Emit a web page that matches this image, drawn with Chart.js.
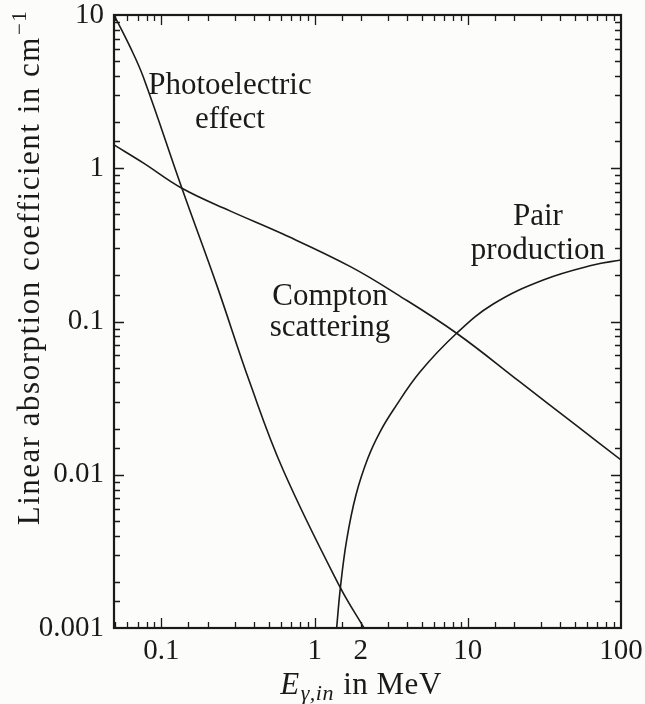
<!DOCTYPE html>
<html>
<head>
<meta charset="utf-8">
<script src="https://cdn.jsdelivr.net/npm/chart.js@4"></script>
<style>
  html, body { margin: 0; padding: 0; background: #fcfcfa; }
  #wrap { width: 645px; height: 704px; }
</style>
</head>
<body>
<div id="wrap"><canvas id="myChart" width="645" height="704"></canvas></div>
<script>
// energies in MeV, linear absorption coefficients in 1/cm
var photoE  = [0.049, 0.0623, 0.076, 0.136, 0.229, 0.378, 0.624, 1.46, 2.1];
var photoMu = [10, 6.21, 3.95, 0.74, 0.174, 0.0398, 0.0107, 0.00186, 0.001];

var comptonE  = [0.049, 0.076, 0.136, 0.28, 0.621, 1.7, 3.43, 8.45, 21.9, 51.3, 100];
var comptonMu = [1.42, 1.084, 0.74, 0.527, 0.372, 0.229, 0.151, 0.0838, 0.0403, 0.0209, 0.0125];

var pairE  = [1.392, 1.474, 1.618, 1.861, 2.228, 2.669, 3.26, 4.869, 8.453, 14.65, 31.06, 65.86, 100];
var pairMu = [0.001, 0.00185, 0.00375, 0.00738, 0.01286, 0.019, 0.02645, 0.0468, 0.0838, 0.1301, 0.1866, 0.2337, 0.252];

var xLabels = [0.1, 1, 2, 10, 100];
var yLabels = [0.001, 0.01, 0.1, 1, 10];
var mantissas = [1, 1.5, 2, 3, 4, 5, 6, 7, 8, 9];

var annotations = [
  { text: "Photoelectric", x: 0.28,  y: 3.05 },
  { text: "effect",        x: 0.28,  y: 1.83 },
  { text: "Compton",       x: 1.26,  y: 0.128 },
  { text: "scattering",    x: 1.26,  y: 0.0804 },
  { text: "Pair",          x: 28.7,  y: 0.426 },
  { text: "production",    x: 28.7,  y: 0.256 }
];

var serif = "'Liberation Serif', 'Times New Roman', serif";
var ink = "#1a1a1a";

function pts(xs, ys) {
  return xs.map(function (v, i) { return { x: v, y: ys[i] }; });
}

function minorTicks(lo, hi) {
  var out = [];
  for (var d = -4; d <= 3; d++) {
    mantissas.forEach(function (m) {
      var v = m * Math.pow(10, d);
      if (v >= lo * 1.0001 && v <= hi * 0.9999) out.push({ v: v, major: m === 1 });
    });
  }
  return out;
}

// inward ticks on all four sides, frame, texts
var decor = {
  id: 'decor',
  beforeDraw: function (chart) {
    var ctx = chart.ctx;
    ctx.save();
    ctx.fillStyle = '#fcfcfa';
    ctx.fillRect(0, 0, chart.width, chart.height);
    ctx.restore();
  },
  afterDraw: function (chart) {
    var ctx = chart.ctx;
    var a = chart.chartArea;
    var xs = chart.scales.x, ys = chart.scales.y;
    ctx.save();
    ctx.strokeStyle = ink;
    ctx.lineWidth = 1.3;
    minorTicks(xs.min, xs.max).forEach(function (t) {
      var p = Math.round(xs.getPixelForValue(t.v)) + 0.5;
      var len = t.major ? 10 : 6;
      ctx.beginPath();
      ctx.moveTo(p, a.bottom); ctx.lineTo(p, a.bottom - len);
      ctx.moveTo(p, a.top); ctx.lineTo(p, a.top + len);
      ctx.stroke();
    });
    minorTicks(ys.min, ys.max).forEach(function (t) {
      var p = Math.round(ys.getPixelForValue(t.v)) + 0.5;
      var len = t.major ? 10 : 6;
      ctx.beginPath();
      ctx.moveTo(a.left, p); ctx.lineTo(a.left + len, p);
      ctx.moveTo(a.right, p); ctx.lineTo(a.right - len, p);
      ctx.stroke();
    });
    ctx.lineWidth = 2.2;
    ctx.strokeRect(a.left, a.top, a.right - a.left, a.bottom - a.top);

    // curve labels
    ctx.fillStyle = ink;
    ctx.font = "31px " + serif;
    ctx.textAlign = 'center';
    ctx.textBaseline = 'alphabetic';
    annotations.forEach(function (t) {
      ctx.fillText(t.text, xs.getPixelForValue(t.x), ys.getPixelForValue(t.y));
    });

    // x axis title: E_{gamma,in} in MeV
    ctx.textAlign = 'left';
    ctx.letterSpacing = '0.5px';
    var big = "31px " + serif, ital = "italic 31px " + serif, sub = "italic 22px " + serif;
    var cx = 360, by = 694;
    ctx.font = ital; var wE = ctx.measureText("E").width;
    ctx.font = sub; var wS = ctx.measureText("\u03b3,in").width;
    ctx.font = big; var wR = ctx.measureText(" in MeV").width;
    var x0 = cx - (wE + wS + wR) / 2;
    ctx.font = ital; ctx.fillText("E", x0, by);
    ctx.font = sub; ctx.fillText("\u03b3,in", x0 + wE + 1, by + 6);
    ctx.font = big; ctx.fillText(" in MeV", x0 + wE + wS + 2, by);

    // y axis title with superscript
    ctx.letterSpacing = '1.5px';
    ctx.translate(39, 268);
    ctx.rotate(-Math.PI / 2);
    var main = "Linear absorption coefficient in cm", sup = "\u22121";
    ctx.font = big; var wM = ctx.measureText(main).width;
    ctx.font = "21px " + serif; var wU = ctx.measureText(sup).width;
    var s0 = -(wM + wU) / 2;
    ctx.font = big; ctx.fillText(main, s0, 0);
    ctx.font = "21px " + serif; ctx.fillText(sup, s0 + wM + 1, -13);
    ctx.restore();
  }
};

function lineSet(label, data) {
  return {
    label: label,
    data: data,
    borderColor: ink,
    borderWidth: 1.6,
    pointRadius: 0,
    fill: false,
    tension: 0.4
  };
}

new Chart(document.getElementById("myChart"), {
  type: 'line',
  data: {
    datasets: [
      lineSet('Photoelectric effect', pts(photoE, photoMu)),
      lineSet('Compton scattering', pts(comptonE, comptonMu)),
      lineSet('Pair production', pts(pairE, pairMu))
    ]
  },
  options: {
    responsive: false,
    animation: false,
    layout: { padding: { top: 15, right: 24, left: 0, bottom: 0 } },
    plugins: { legend: { display: false }, tooltip: { enabled: false } },
    scales: {
      x: {
        type: 'logarithmic',
        min: 0.049, max: 100,
        grid: { display: false, drawTicks: false },
        border: { display: false },
        afterBuildTicks: function (s) { s.ticks = xLabels.map(function (v) { return { value: v }; }); },
        afterFit: function (s) { s.height = 76; s.paddingLeft = 0; s.paddingRight = 0; },
        ticks: {
          autoSkip: false, maxRotation: 0, padding: 6, color: ink,
          font: { family: serif, size: 29 },
          callback: function (v) { return String(v); }
        }
      },
      y: {
        type: 'logarithmic',
        min: 0.001, max: 10,
        grid: { display: false, drawTicks: false },
        border: { display: false },
        afterBuildTicks: function (s) { s.ticks = yLabels.map(function (v) { return { value: v }; }); },
        afterFit: function (s) { s.width = 114; s.paddingTop = 0; s.paddingBottom = 0; },
        ticks: {
          autoSkip: false, padding: 10, color: ink,
          font: { family: serif, size: 29 },
          callback: function (v) { return String(v); }
        }
      }
    }
  },
  plugins: [decor]
});
</script>
</body>
</html>
